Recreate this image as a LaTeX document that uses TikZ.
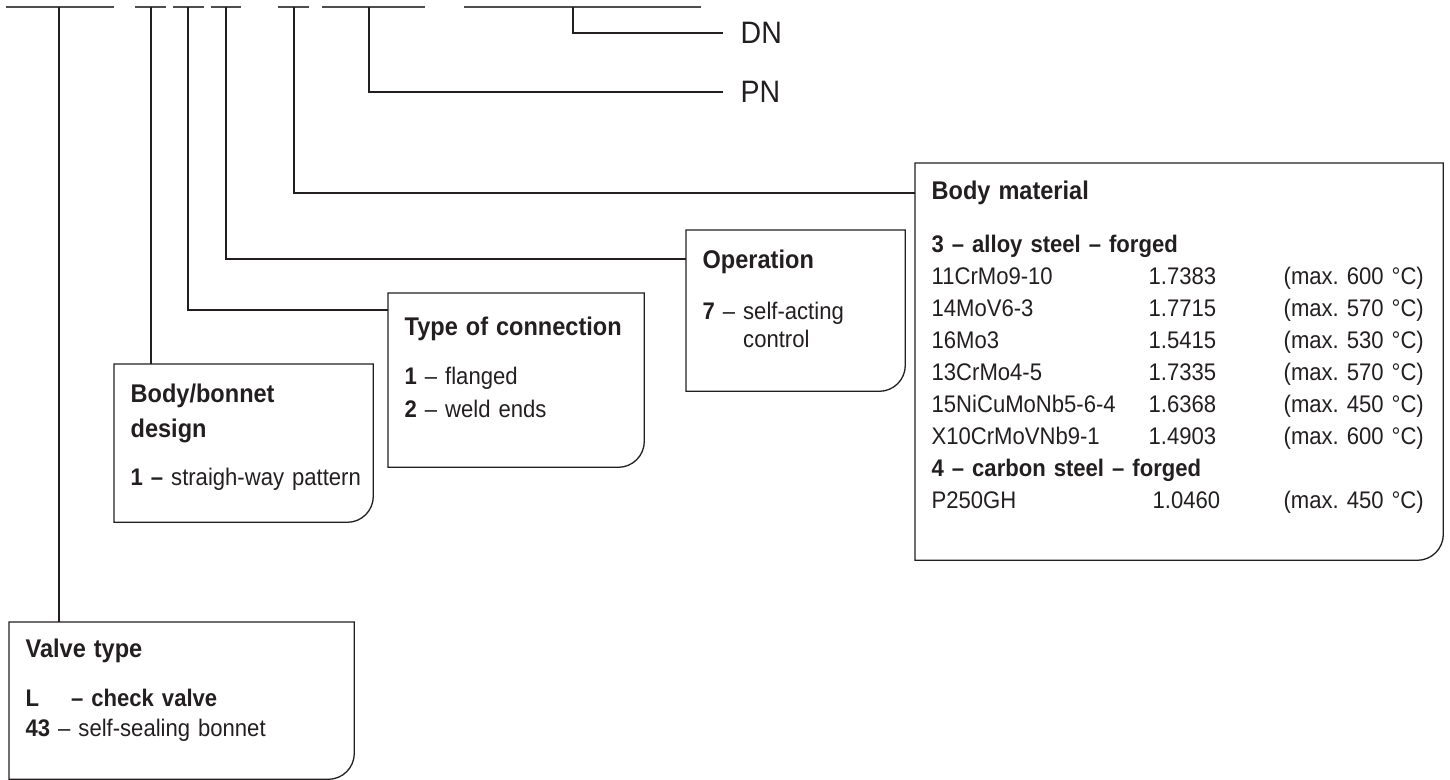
\documentclass[tikz,border=0pt]{standalone}
\usepackage{fontspec}
\setmainfont{Liberation Sans}[FakeStretch=0.92]
\definecolor{ink}{HTML}{231F20}
\newcommand\hd[1]{{\fontsize{12.8}{16}\selectfont\bfseries #1}}
\newcommand\matrow[3]{\makebox[108.5pt][l]{#1}\makebox[67.5pt][l]{#2}#3}
\begin{document}
\begin{tikzpicture}[x=0.5pt,y=-0.5pt,line width=0.65pt,color=ink,
  card/.style={anchor=north west,align=left,inner xsep=8pt,inner ysep=0pt,
    font=\fontsize{12}{15.5}\selectfont},
  tag/.style={anchor=west,inner xsep=8.5pt,inner ysep=0pt,
    font=\fontsize{15.5}{18}\selectfont},
  topline/.style={line width=1pt,draw=ink!80}]
 \useasboundingbox (0,0) rectangle (1450,780);
 % the blanks of the order code, with the point where each leader drops
 \foreach \n/\a/\m/\b in {1/6/59/114,2/135/151/166,3/173/188/204,4/211/226/241,
   5/278/294/309,6/322/369/425,7/464/573/701}
  {\draw[topline] (\a,7) -- (\b,7); \coordinate (t\n) at (\m,7);}
 \node[tag] (dn) at (723,33) {DN};
 \node[tag] (pn) at (723,92) {PN};
 \node[card,text width=156pt,text height=17.25pt,text depth=60.75pt] (vt) at (9,622)
  {\hd{Valve type}\\[9pt]
   \textbf{L\hspace{16pt}–~check valve}\\[-0.5pt]
   \textbf{43} – self-sealing bonnet};
 \node[card,text width=113pt,text height=18.75pt,text depth=59.75pt] (bb) at (114,364)
  {\hd{Body/bonnet}\\[2pt]\hd{design}\\[8.5pt]
   \mbox{\textbf{1 –} straigh-way pattern}};
 \node[card,text width=111.5pt,text height=20.75pt,text depth=65.75pt] (tc) at (388,293)
  {\hd{Type of connection}\\[9pt]
   \textbf{1} – flanged\\[1pt]
   \textbf{2} – weld ends};
 \node[card,text width=93pt,text height=18.75pt,text depth=61.25pt] (op) at (686,230)
  {\hd{Operation}\\[10pt]
   \textbf{7} – self-acting\\[-1.5pt]
   \phantom{\textbf{7} – }control};
 \node[card,text width=247.5pt,text height=17.75pt,text depth=180.25pt,
   font=\fontsize{12}{16}\selectfont] (bm) at (915,163)
  {\hd{Body material}\\[10.5pt]
   \textbf{3 – alloy steel – forged}\\
   \matrow{11CrMo9-10}{1.7383}{(max.~600~°C)}\\
   \matrow{14MoV6-3}{1.7715}{(max.~570~°C)}\\
   \matrow{16Mo3}{1.5415}{(max.~530~°C)}\\
   \matrow{13CrMo4-5}{1.7335}{(max.~570~°C)}\\
   \matrow{15NiCuMoNb5-6-4}{1.6368}{(max.~450~°C)}\\
   \matrow{X10CrMoVNb9-1}{1.4903}{(max.~600~°C)}\\
   \textbf{4 – carbon steel – forged}\\
   \matrow{P250GH}{\,1.0460}{(max.~450~°C)}};
 % cards: square corners except the lower right one
 \foreach \b in {vt,bb,tc,op,bm}
  \draw (\b.south west) -- (\b.north west) -- (\b.north east)
   -- ([yshift=13pt]\b.south east) arc[start angle=0,end angle=-90,radius=13pt] -- cycle;
 \draw (t1) -- (t1 |- vt.north);
 \draw (t2) -- (t2 |- bb.north);
 \draw (t3) |- ([yshift=-8.5pt]tc.north west);
 \draw (t4) |- ([yshift=-14.5pt]op.north west);
 \draw (t5) |- ([yshift=-15pt]bm.north west);
 \draw (t6) |- (pn.west);
 \draw (t7) |- (dn.west);
\end{tikzpicture}
\end{document}
